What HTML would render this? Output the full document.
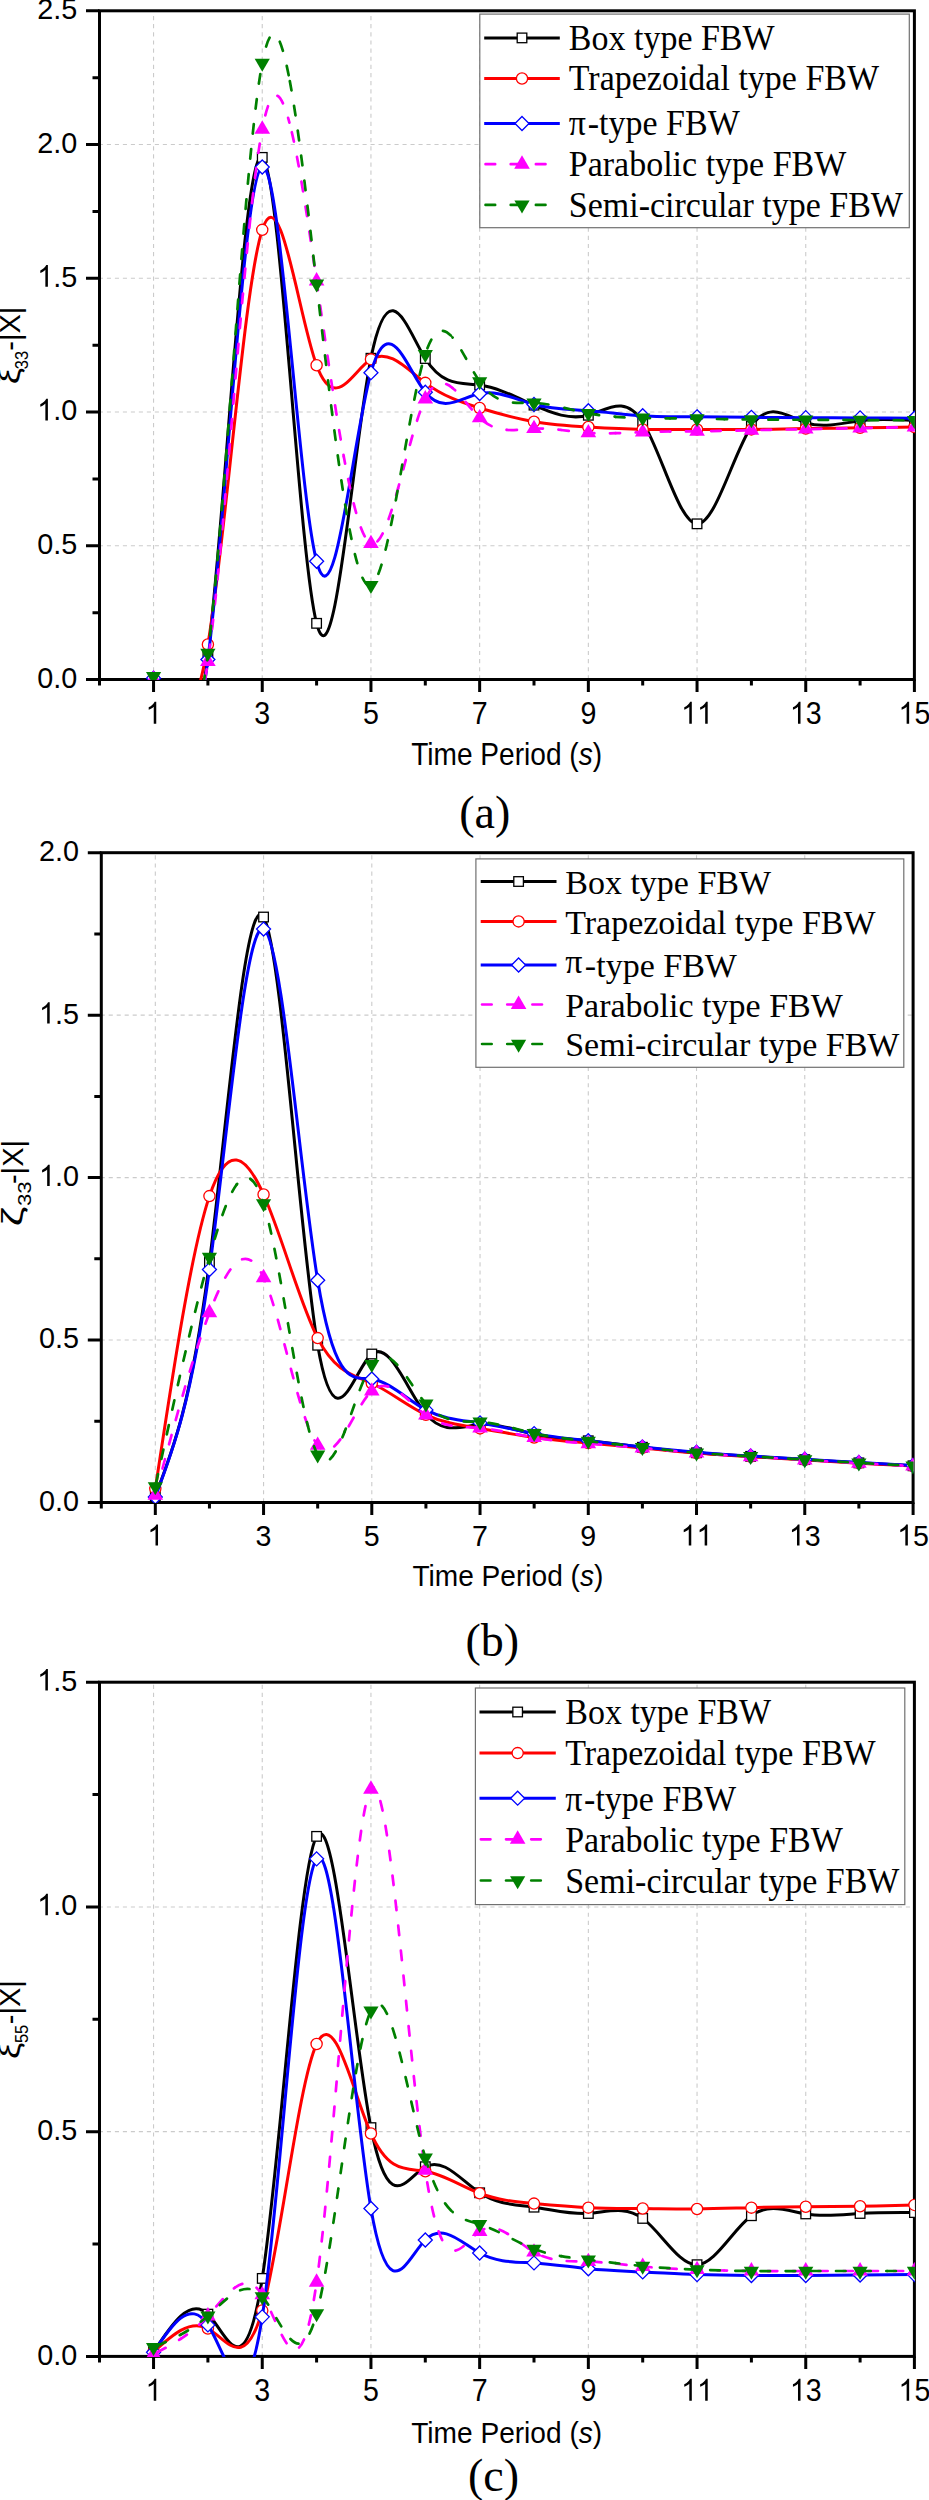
<!DOCTYPE html><html><head><meta charset="utf-8"><style>html,body{margin:0;padding:0;background:#fff;}svg{display:block;}text{font-family:"Liberation Sans",sans-serif;}.serif{font-family:"Liberation Serif",serif;}</style></head><body>
<svg width="929" height="2500" viewBox="0 0 929 2500">
<rect width="929" height="2500" fill="#fff"/>
<defs><clipPath id="clipa"><rect x="99" y="10.3" width="815.9" height="669.7"/></clipPath></defs>
<path d="M153.55 679.5V12.3M262.25 679.5V12.3M370.95 679.5V12.3M479.65 679.5V12.3M588.35 679.5V12.3M697.05 679.5V12.3M805.75 679.5V12.3" stroke="#cbcbcb" stroke-width="1.1" stroke-dasharray="4.2 3.94" fill="none"/>
<path d="M98.9 545.76H912.9M98.9 412.02H912.9M98.9 278.28H912.9M98.9 144.54H912.9" stroke="#cbcbcb" stroke-width="1.1" stroke-dasharray="4.1 3.89" fill="none"/>
<rect x="99.5" y="10.8" width="814.9" height="668.7" fill="none" stroke="#000" stroke-width="3"/>
<path d="M99.5 679.5V685.5M153.55 679.5V692M207.9 679.5V685.5M262.25 679.5V692M316.6 679.5V685.5M370.95 679.5V692M425.3 679.5V685.5M479.65 679.5V692M534 679.5V685.5M588.35 679.5V692M642.7 679.5V685.5M697.05 679.5V692M751.4 679.5V685.5M805.75 679.5V692M860.1 679.5V685.5M914.4 679.5V692M99.5 679.5H86M99.5 612.63H92.5M99.5 545.76H86M99.5 478.89H92.5M99.5 412.02H86M99.5 345.15H92.5M99.5 278.28H86M99.5 211.41H92.5M99.5 144.54H86M99.5 77.67H92.5M99.5 10.8H86" stroke="#000" stroke-width="3" fill="none"/>
<g clip-path="url(#clipa)">
<path d="M153.55 678.16C171.67 741.24 189.78 804.31 207.9 655.43C226.02 506.54 244.13 145.69 262.25 157.38C280.37 169.07 298.48 553.3 316.6 623.33C334.72 693.36 352.83 449.17 370.95 358.26C389.07 267.34 407.18 329.68 425.3 358.52C443.42 387.37 461.53 382.71 479.65 385.11C497.77 387.52 515.88 396.99 534 405.15C552.12 413.3 570.23 420.14 588.35 415.26C606.47 410.38 624.58 393.78 642.7 421.94C660.82 450.11 678.93 523.03 697.05 523.83C715.17 524.63 733.28 453.31 751.4 426.36C769.52 399.4 787.63 416.81 805.75 422.72C823.87 428.63 841.98 423.04 860.1 420.77C878.22 418.5 896.33 419.55 914.45 420.61" fill="none" stroke="#000000" stroke-width="3" stroke-linejoin="round"/>
<rect x="148.75" y="673.36" width="9.6" height="9.6" fill="#fff" stroke="#000000" stroke-width="1.3"/>
<rect x="203.1" y="650.63" width="9.6" height="9.6" fill="#fff" stroke="#000000" stroke-width="1.3"/>
<rect x="257.45" y="152.58" width="9.6" height="9.6" fill="#fff" stroke="#000000" stroke-width="1.3"/>
<rect x="311.8" y="618.53" width="9.6" height="9.6" fill="#fff" stroke="#000000" stroke-width="1.3"/>
<rect x="366.15" y="353.46" width="9.6" height="9.6" fill="#fff" stroke="#000000" stroke-width="1.3"/>
<rect x="420.5" y="353.72" width="9.6" height="9.6" fill="#fff" stroke="#000000" stroke-width="1.3"/>
<rect x="474.85" y="380.31" width="9.6" height="9.6" fill="#fff" stroke="#000000" stroke-width="1.3"/>
<rect x="529.2" y="400.35" width="9.6" height="9.6" fill="#fff" stroke="#000000" stroke-width="1.3"/>
<rect x="583.55" y="410.46" width="9.6" height="9.6" fill="#fff" stroke="#000000" stroke-width="1.3"/>
<rect x="637.9" y="417.14" width="9.6" height="9.6" fill="#fff" stroke="#000000" stroke-width="1.3"/>
<rect x="692.25" y="519.03" width="9.6" height="9.6" fill="#fff" stroke="#000000" stroke-width="1.3"/>
<rect x="746.6" y="421.56" width="9.6" height="9.6" fill="#fff" stroke="#000000" stroke-width="1.3"/>
<rect x="800.95" y="417.92" width="9.6" height="9.6" fill="#fff" stroke="#000000" stroke-width="1.3"/>
<rect x="855.3" y="415.97" width="9.6" height="9.6" fill="#fff" stroke="#000000" stroke-width="1.3"/>
<rect x="909.65" y="415.81" width="9.6" height="9.6" fill="#fff" stroke="#000000" stroke-width="1.3"/>
<path d="M153.55 678.16C171.67 715.06 189.78 751.97 207.9 644.46C226.02 536.96 244.13 285.04 262.25 229.87C280.37 174.69 298.48 316.24 316.6 365.21C334.72 414.18 352.83 370.55 370.95 359.33C389.07 348.1 407.18 369.27 425.3 382.86C443.42 396.46 461.53 402.49 479.65 408.01C497.77 413.53 515.88 418.55 534 421.65C552.12 424.75 570.23 425.92 588.35 427C606.47 428.08 624.58 429.06 642.7 429.41C660.82 429.75 678.93 429.47 697.05 429.41C715.17 429.35 733.28 429.51 751.4 429.41C769.52 429.3 787.63 428.91 805.75 428.6C823.87 428.29 841.98 428.06 860.1 427.8C878.22 427.55 896.33 427.27 914.45 427" fill="none" stroke="#ff0000" stroke-width="3" stroke-linejoin="round"/>
<circle cx="153.55" cy="678.16" r="5.6" fill="#fff" stroke="#ff0000" stroke-width="1.3"/>
<circle cx="207.9" cy="644.46" r="5.6" fill="#fff" stroke="#ff0000" stroke-width="1.3"/>
<circle cx="262.25" cy="229.87" r="5.6" fill="#fff" stroke="#ff0000" stroke-width="1.3"/>
<circle cx="316.6" cy="365.21" r="5.6" fill="#fff" stroke="#ff0000" stroke-width="1.3"/>
<circle cx="370.95" cy="359.33" r="5.6" fill="#fff" stroke="#ff0000" stroke-width="1.3"/>
<circle cx="425.3" cy="382.86" r="5.6" fill="#fff" stroke="#ff0000" stroke-width="1.3"/>
<circle cx="479.65" cy="408.01" r="5.6" fill="#fff" stroke="#ff0000" stroke-width="1.3"/>
<circle cx="534" cy="421.65" r="5.6" fill="#fff" stroke="#ff0000" stroke-width="1.3"/>
<circle cx="588.35" cy="427" r="5.6" fill="#fff" stroke="#ff0000" stroke-width="1.3"/>
<circle cx="642.7" cy="429.41" r="5.6" fill="#fff" stroke="#ff0000" stroke-width="1.3"/>
<circle cx="697.05" cy="429.41" r="5.6" fill="#fff" stroke="#ff0000" stroke-width="1.3"/>
<circle cx="751.4" cy="429.41" r="5.6" fill="#fff" stroke="#ff0000" stroke-width="1.3"/>
<circle cx="805.75" cy="428.6" r="5.6" fill="#fff" stroke="#ff0000" stroke-width="1.3"/>
<circle cx="860.1" cy="427.8" r="5.6" fill="#fff" stroke="#ff0000" stroke-width="1.3"/>
<circle cx="914.45" cy="427" r="5.6" fill="#fff" stroke="#ff0000" stroke-width="1.3"/>
<path d="M153.55 678.16C171.67 739.56 189.78 800.95 207.9 659.44C226.02 517.93 244.13 173.51 262.25 167.01C280.37 160.51 298.48 491.92 316.6 561.27C334.72 630.63 352.83 437.92 370.95 372.7C389.07 307.49 407.18 369.77 425.3 392.23C443.42 414.69 461.53 397.33 479.65 393.56C497.77 389.8 515.88 399.63 534 404.53C552.12 409.43 570.23 409.4 588.35 410.68C606.47 411.97 624.58 414.56 642.7 415.76C660.82 416.97 678.93 416.78 697.05 416.83C715.17 416.89 733.28 417.2 751.4 417.37C769.52 417.54 787.63 417.57 805.75 417.64C823.87 417.7 841.98 417.81 860.1 417.9C878.22 418 896.33 418.09 914.45 418.17" fill="none" stroke="#0000ff" stroke-width="3" stroke-linejoin="round"/>
<path d="M153.55 671.16L160.55 678.16L153.55 685.16L146.55 678.16Z" fill="#fff" stroke="#0000ff" stroke-width="1.3"/>
<path d="M207.9 652.44L214.9 659.44L207.9 666.44L200.9 659.44Z" fill="#fff" stroke="#0000ff" stroke-width="1.3"/>
<path d="M262.25 160.01L269.25 167.01L262.25 174.01L255.25 167.01Z" fill="#fff" stroke="#0000ff" stroke-width="1.3"/>
<path d="M316.6 554.27L323.6 561.27L316.6 568.27L309.6 561.27Z" fill="#fff" stroke="#0000ff" stroke-width="1.3"/>
<path d="M370.95 365.7L377.95 372.7L370.95 379.7L363.95 372.7Z" fill="#fff" stroke="#0000ff" stroke-width="1.3"/>
<path d="M425.3 385.23L432.3 392.23L425.3 399.23L418.3 392.23Z" fill="#fff" stroke="#0000ff" stroke-width="1.3"/>
<path d="M479.65 386.56L486.65 393.56L479.65 400.56L472.65 393.56Z" fill="#fff" stroke="#0000ff" stroke-width="1.3"/>
<path d="M534 397.53L541 404.53L534 411.53L527 404.53Z" fill="#fff" stroke="#0000ff" stroke-width="1.3"/>
<path d="M588.35 403.68L595.35 410.68L588.35 417.68L581.35 410.68Z" fill="#fff" stroke="#0000ff" stroke-width="1.3"/>
<path d="M642.7 408.76L649.7 415.76L642.7 422.76L635.7 415.76Z" fill="#fff" stroke="#0000ff" stroke-width="1.3"/>
<path d="M697.05 409.83L704.05 416.83L697.05 423.83L690.05 416.83Z" fill="#fff" stroke="#0000ff" stroke-width="1.3"/>
<path d="M751.4 410.37L758.4 417.37L751.4 424.37L744.4 417.37Z" fill="#fff" stroke="#0000ff" stroke-width="1.3"/>
<path d="M805.75 410.64L812.75 417.64L805.75 424.64L798.75 417.64Z" fill="#fff" stroke="#0000ff" stroke-width="1.3"/>
<path d="M860.1 410.9L867.1 417.9L860.1 424.9L853.1 417.9Z" fill="#fff" stroke="#0000ff" stroke-width="1.3"/>
<path d="M914.45 411.17L921.45 418.17L914.45 425.17L907.45 418.17Z" fill="#fff" stroke="#0000ff" stroke-width="1.3"/>
<g fill="none" stroke="#ff00ff" stroke-width="2.7" stroke-dasharray="9.6 15.57" stroke-linecap="round"><path d="M153.55 678.97C162.61 706.5 171.67 734.04 180.73 738.75" stroke-dashoffset="15.20"/><path d="M180.73 738.75C189.78 743.46 198.84 725.35 207.9 661.58" stroke-dashoffset="81.65"/><path d="M207.9 661.58C216.96 597.81 226.02 488.39 235.07 383.09" stroke-dashoffset="168.58"/><path d="M235.07 383.09C244.13 277.79 253.19 176.6 262.25 129.29" stroke-dashoffset="448.42"/><path d="M262.25 129.29C271.31 81.99 280.37 88.57 289.43 122.64" stroke-dashoffset="690.63"/><path d="M289.43 122.64C298.48 156.71 307.54 218.28 316.6 280.95" stroke-dashoffset="770.17"/><path d="M316.6 280.95C325.66 343.63 334.72 407.41 343.77 456.46" stroke-dashoffset="931.57"/><path d="M343.77 456.46C352.83 505.52 361.89 539.85 370.95 543.62" stroke-dashoffset="1109.88"/><path d="M370.95 543.62C380.01 547.39 389.07 520.61 398.12 488.19" stroke-dashoffset="1200.88"/><path d="M398.12 488.19C407.18 455.76 416.24 417.7 425.3 398.91" stroke-dashoffset="1264.12"/><path d="M425.3 398.91C434.36 380.13 443.42 380.62 452.48 387.94" stroke-dashoffset="1355.93"/><path d="M452.48 387.94C461.53 395.25 470.59 409.39 479.65 417.9" stroke-dashoffset="1390.18"/><path d="M479.65 417.9C488.71 426.41 497.77 429.29 506.82 429.94" stroke-dashoffset="1429.83"/><path d="M506.82 429.94C515.88 430.59 524.94 429.01 534 428.6" stroke-dashoffset="1459.34"/><path d="M534 428.6C543.06 428.19 552.12 428.95 561.17 429.97" stroke-dashoffset="1485.73"/><path d="M561.17 429.97C570.23 430.99 579.29 432.26 588.35 432.88" stroke-dashoffset="1512.12"/><path d="M588.35 432.88C597.41 433.5 606.47 433.47 615.53 433.19" stroke-dashoffset="1538.92"/><path d="M615.53 433.19C624.58 432.92 633.64 432.41 642.7 432.08" stroke-dashoffset="1565.59"/><path d="M642.7 432.08C651.76 431.75 660.82 431.6 669.88 431.51" stroke-dashoffset="1592.79"/><path d="M669.88 431.51C678.93 431.42 687.99 431.38 697.05 431.28" stroke-dashoffset="1619.97"/><path d="M697.05 431.28C706.11 431.18 715.17 431.01 724.23 430.82" stroke-dashoffset="1647.14"/><path d="M724.23 430.82C733.28 430.62 742.34 430.41 751.4 430.21" stroke-dashoffset="1674.32"/><path d="M751.4 430.21C760.46 430.01 769.52 429.83 778.58 429.65" stroke-dashoffset="1701.50"/><path d="M778.58 429.65C787.63 429.48 796.69 429.31 805.75 429.14" stroke-dashoffset="1728.68"/><path d="M805.75 429.14C814.81 428.97 823.87 428.79 832.93 428.61" stroke-dashoffset="1755.86"/><path d="M832.93 428.61C841.98 428.43 851.04 428.25 860.1 428.07" stroke-dashoffset="1783.05"/><path d="M860.1 428.07C869.16 427.89 878.22 427.71 887.28 427.53" stroke-dashoffset="1810.23"/><path d="M887.28 427.53C896.33 427.35 905.39 427.18 914.45 427" stroke-dashoffset="1837.41"/></g>
<path d="M153.55 670.03L161.35 683.43L145.75 683.43Z" fill="#ff00ff"/>
<path d="M207.9 652.65L215.7 666.05L200.1 666.05Z" fill="#ff00ff"/>
<path d="M262.25 120.36L270.05 133.76L254.45 133.76Z" fill="#ff00ff"/>
<path d="M316.6 272.02L324.4 285.42L308.8 285.42Z" fill="#ff00ff"/>
<path d="M370.95 534.69L378.75 548.09L363.15 548.09Z" fill="#ff00ff"/>
<path d="M425.3 389.98L433.1 403.38L417.5 403.38Z" fill="#ff00ff"/>
<path d="M479.65 408.97L487.45 422.37L471.85 422.37Z" fill="#ff00ff"/>
<path d="M534 419.67L541.8 433.07L526.2 433.07Z" fill="#ff00ff"/>
<path d="M588.35 423.95L596.15 437.35L580.55 437.35Z" fill="#ff00ff"/>
<path d="M642.7 423.15L650.5 436.55L634.9 436.55Z" fill="#ff00ff"/>
<path d="M697.05 422.35L704.85 435.75L689.25 435.75Z" fill="#ff00ff"/>
<path d="M751.4 421.28L759.2 434.68L743.6 434.68Z" fill="#ff00ff"/>
<path d="M805.75 420.21L813.55 433.61L797.95 433.61Z" fill="#ff00ff"/>
<path d="M860.1 419.14L867.9 432.54L852.3 432.54Z" fill="#ff00ff"/>
<path d="M914.45 418.07L922.25 431.47L906.65 431.47Z" fill="#ff00ff"/>
<g fill="none" stroke="#008000" stroke-width="2.7" stroke-dasharray="9.6 15.57" stroke-linecap="round"><path d="M153.55 676.29C162.61 706.65 171.67 737.02 180.73 741.7" stroke-dashoffset="14.20"/><path d="M180.73 741.7C189.78 746.38 198.84 725.38 207.9 653.02" stroke-dashoffset="85.85"/><path d="M207.9 653.02C216.96 580.66 226.02 456.94 235.07 339.41" stroke-dashoffset="183.48"/><path d="M235.07 339.41C244.13 221.88 253.19 110.55 262.25 62.96" stroke-dashoffset="498.29"/><path d="M262.25 62.96C271.31 15.37 280.37 31.53 289.43 79.13" stroke-dashoffset="763.55"/><path d="M289.43 79.13C298.48 126.72 307.54 205.75 316.6 283.9" stroke-dashoffset="853.65"/><path d="M316.6 283.9C325.66 362.04 334.72 439.31 343.77 496.08" stroke-dashoffset="1060.75"/><path d="M343.77 496.08C352.83 552.86 361.89 589.15 370.95 585.35" stroke-dashoffset="1275.18"/><path d="M370.95 585.35C380.01 581.55 389.07 537.65 398.12 487.77" stroke-dashoffset="1370.17"/><path d="M398.12 487.77C407.18 437.88 416.24 382.01 425.3 354.24" stroke-dashoffset="1471.10"/><path d="M425.3 354.24C434.36 326.48 443.42 326.83 452.48 337.35" stroke-dashoffset="1604.84"/><path d="M452.48 337.35C461.53 347.87 470.59 368.58 479.65 381.53" stroke-dashoffset="1645.34"/><path d="M479.65 381.53C488.71 394.48 497.77 399.67 506.82 401.71" stroke-dashoffset="1696.53"/><path d="M506.82 401.71C515.88 403.75 524.94 402.62 534 402.93" stroke-dashoffset="1730.48"/><path d="M534 402.93C543.06 403.23 552.12 404.97 561.17 407.06" stroke-dashoffset="1757.00"/><path d="M561.17 407.06C570.23 409.16 579.29 411.61 588.35 413.36" stroke-dashoffset="1783.79"/><path d="M588.35 413.36C597.41 415.1 606.47 416.14 615.53 416.79" stroke-dashoffset="1810.95"/><path d="M615.53 416.79C624.58 417.44 633.64 417.7 642.7 417.9" stroke-dashoffset="1838.01"/><path d="M642.7 417.9C651.76 418.11 660.82 418.24 669.88 418.36" stroke-dashoffset="1864.86"/><path d="M669.88 418.36C678.93 418.48 687.99 418.58 697.05 418.71" stroke-dashoffset="1891.51"/><path d="M697.05 418.71C706.11 418.83 715.17 418.99 724.23 419.13" stroke-dashoffset="1918.17"/><path d="M724.23 419.13C733.28 419.28 742.34 419.42 751.4 419.51" stroke-dashoffset="1944.82"/><path d="M751.4 419.51C760.46 419.6 769.52 419.65 778.58 419.69" stroke-dashoffset="1971.47"/><path d="M778.58 419.69C787.63 419.73 796.69 419.75 805.75 419.78" stroke-dashoffset="1998.78"/><path d="M805.75 419.78C814.81 419.81 823.87 419.85 832.93 419.9" stroke-dashoffset="2026.09"/><path d="M832.93 419.9C841.98 419.94 851.04 420 860.1 420.04" stroke-dashoffset="2053.40"/><path d="M860.1 420.04C869.16 420.09 878.22 420.14 887.28 420.18" stroke-dashoffset="2080.57"/><path d="M887.28 420.18C896.33 420.23 905.39 420.27 914.45 420.31" stroke-dashoffset="2107.75"/></g>
<path d="M145.95 671.96L161.15 671.96L153.55 684.96Z" fill="#008000"/>
<path d="M200.3 648.69L215.5 648.69L207.9 661.69Z" fill="#008000"/>
<path d="M254.65 58.63L269.85 58.63L262.25 71.63Z" fill="#008000"/>
<path d="M309 279.56L324.2 279.56L316.6 292.56Z" fill="#008000"/>
<path d="M363.35 581.01L378.55 581.01L370.95 594.01Z" fill="#008000"/>
<path d="M417.7 349.91L432.9 349.91L425.3 362.91Z" fill="#008000"/>
<path d="M472.05 377.19L487.25 377.19L479.65 390.19Z" fill="#008000"/>
<path d="M526.4 398.59L541.6 398.59L534 411.59Z" fill="#008000"/>
<path d="M580.75 409.02L595.95 409.02L588.35 422.02Z" fill="#008000"/>
<path d="M635.1 413.57L650.3 413.57L642.7 426.57Z" fill="#008000"/>
<path d="M689.45 414.37L704.65 414.37L697.05 427.37Z" fill="#008000"/>
<path d="M743.8 415.18L759 415.18L751.4 428.18Z" fill="#008000"/>
<path d="M798.15 415.44L813.35 415.44L805.75 428.44Z" fill="#008000"/>
<path d="M852.5 415.71L867.7 415.71L860.1 428.71Z" fill="#008000"/>
<path d="M906.85 415.98L922.05 415.98L914.45 428.98Z" fill="#008000"/>
</g>
<path transform="translate(145.6 723.7) scale(0.01396 -0.01487)" d="M763 0L583 0L583 1147Q518 1085 412 1023Q306 961 222 930L222 1104Q373 1175 486 1276Q599 1377 646 1472L763 1472Z"/>
<text transform="translate(254.3 723.7) scale(1 1.065)" font-size="28.6">3</text>
<text transform="translate(363 723.7) scale(1 1.065)" font-size="28.6">5</text>
<text transform="translate(471.7 723.7) scale(1 1.065)" font-size="28.6">7</text>
<text transform="translate(580.4 723.7) scale(1 1.065)" font-size="28.6">9</text>
<path transform="translate(681.15 723.7) scale(0.01396 -0.01487)" d="M763 0L583 0L583 1147Q518 1085 412 1023Q306 961 222 930L222 1104Q373 1175 486 1276Q599 1377 646 1472L763 1472Z"/><path transform="translate(697.05 723.7) scale(0.01396 -0.01487)" d="M763 0L583 0L583 1147Q518 1085 412 1023Q306 961 222 930L222 1104Q373 1175 486 1276Q599 1377 646 1472L763 1472Z"/>
<path transform="translate(789.85 723.7) scale(0.01396 -0.01487)" d="M763 0L583 0L583 1147Q518 1085 412 1023Q306 961 222 930L222 1104Q373 1175 486 1276Q599 1377 646 1472L763 1472Z"/><text transform="translate(805.75 723.7) scale(1 1.065)" font-size="28.6">3</text>
<path transform="translate(898.5 723.7) scale(0.01396 -0.01487)" d="M763 0L583 0L583 1147Q518 1085 412 1023Q306 961 222 930L222 1104Q373 1175 486 1276Q599 1377 646 1472L763 1472Z"/><text transform="translate(914.4 723.7) scale(1 1.065)" font-size="28.6">5</text>
<text transform="translate(37.17 687.9) scale(1 1.045)" font-size="28.8">0</text><text transform="translate(53.18 687.9) scale(1 1.045)" font-size="28.8">.</text><text transform="translate(61.19 687.9) scale(1 1.045)" font-size="28.8">0</text>
<text transform="translate(37.17 554.16) scale(1 1.045)" font-size="28.8">0</text><text transform="translate(53.18 554.16) scale(1 1.045)" font-size="28.8">.</text><text transform="translate(61.19 554.16) scale(1 1.045)" font-size="28.8">5</text>
<path transform="translate(37.17 420.42) scale(0.01406 -0.01470)" d="M763 0L583 0L583 1147Q518 1085 412 1023Q306 961 222 930L222 1104Q373 1175 486 1276Q599 1377 646 1472L763 1472Z"/><text transform="translate(53.18 420.42) scale(1 1.045)" font-size="28.8">.</text><text transform="translate(61.19 420.42) scale(1 1.045)" font-size="28.8">0</text>
<path transform="translate(37.17 286.68) scale(0.01406 -0.01470)" d="M763 0L583 0L583 1147Q518 1085 412 1023Q306 961 222 930L222 1104Q373 1175 486 1276Q599 1377 646 1472L763 1472Z"/><text transform="translate(53.18 286.68) scale(1 1.045)" font-size="28.8">.</text><text transform="translate(61.19 286.68) scale(1 1.045)" font-size="28.8">5</text>
<text transform="translate(37.17 152.94) scale(1 1.045)" font-size="28.8">2</text><text transform="translate(53.18 152.94) scale(1 1.045)" font-size="28.8">.</text><text transform="translate(61.19 152.94) scale(1 1.045)" font-size="28.8">0</text>
<text transform="translate(37.17 19.2) scale(1 1.045)" font-size="28.8">2</text><text transform="translate(53.18 19.2) scale(1 1.045)" font-size="28.8">.</text><text transform="translate(61.19 19.2) scale(1 1.045)" font-size="28.8">5</text>
<text transform="translate(20.4 306.7) rotate(-90) scale(1.035 1.06)" font-size="28" text-anchor="end">-|X|</text>
<text transform="translate(28.4 351) rotate(-90) scale(0.9 1.0)" font-size="18.2" text-anchor="end">33</text>
<text transform="translate(20.4 367.9) rotate(-90) scale(1.3 1.06)" font-size="28" text-anchor="end">ξ</text>
<text transform="translate(411.2 765.1) scale(1 1.1)" font-size="28.1">Time Period (<tspan font-style="italic">s</tspan>)</text>
<text class="serif" x="459.2" y="828.2" font-size="46">(a)</text>
<rect x="479.8" y="14.1" width="429.5" height="213.6" fill="#fff" stroke="#707070" stroke-width="1.2"/>
<path d="M484.2 37.9H559.8" stroke="#000000" stroke-width="3"/>
<rect x="517.2" y="33.1" width="9.6" height="9.6" fill="#fff" stroke="#000000" stroke-width="1.3"/>
<text class="serif" transform="translate(568.8 49.8) scale(1 1.065)" font-size="34">Box type FBW</text>
<path d="M484.2 78.5H559.8" stroke="#ff0000" stroke-width="3"/>
<circle cx="522" cy="78.5" r="5.6" fill="#fff" stroke="#ff0000" stroke-width="1.3"/>
<text class="serif" transform="translate(568.8 90.4) scale(1 1.065)" font-size="34">Trapezoidal type FBW</text>
<path d="M484.2 123.5H559.8" stroke="#0000ff" stroke-width="3"/>
<path d="M522 116.5L529 123.5L522 130.5L515 123.5Z" fill="#fff" stroke="#0000ff" stroke-width="1.3"/>
<text class="serif" transform="translate(568.8 135.4) scale(1 1.065)" font-size="34"><tspan dy="0">π</tspan><tspan dy="0" dx="1.8">-type FBW</tspan></text>
<path d="M485.55 164.2H545.85" stroke="#ff00ff" stroke-width="2.7" stroke-dasharray="9.6 15.57" stroke-linecap="round"/>
<path d="M522 155.27L529.8 168.67L514.2 168.67Z" fill="#ff00ff"/>
<text class="serif" transform="translate(568.8 176.1) scale(1 1.065)" font-size="34">Parabolic type FBW</text>
<path d="M485.55 204.9H545.85" stroke="#008000" stroke-width="2.7" stroke-dasharray="9.6 15.57" stroke-linecap="round"/>
<path d="M514.4 200.57L529.6 200.57L522 213.57Z" fill="#008000"/>
<text class="serif" transform="translate(568.8 216.8) scale(1 1.065)" font-size="34">Semi-circular type FBW</text>
<defs><clipPath id="clipb"><rect x="100.8" y="852.2" width="812.8" height="650.8"/></clipPath></defs>
<path d="M155.32 1502.5V854.2M263.56 1502.5V854.2M371.8 1502.5V854.2M480.04 1502.5V854.2M588.28 1502.5V854.2M696.52 1502.5V854.2M804.76 1502.5V854.2" stroke="#cbcbcb" stroke-width="1.1" stroke-dasharray="4.2 3.94" fill="none"/>
<path d="M100.7 1340.05H911.6M100.7 1177.6H911.6M100.7 1015.15H911.6" stroke="#cbcbcb" stroke-width="1.1" stroke-dasharray="4.1 3.89" fill="none"/>
<rect x="101.3" y="852.7" width="811.8" height="649.8" fill="none" stroke="#000" stroke-width="3"/>
<path d="M101.3 1502.5V1508.5M155.32 1502.5V1515M209.44 1502.5V1508.5M263.56 1502.5V1515M317.68 1502.5V1508.5M371.8 1502.5V1515M425.92 1502.5V1508.5M480.04 1502.5V1515M534.16 1502.5V1508.5M588.28 1502.5V1515M642.4 1502.5V1508.5M696.52 1502.5V1515M750.64 1502.5V1508.5M804.76 1502.5V1515M858.88 1502.5V1508.5M913.1 1502.5V1515M101.3 1502.5H87.8M101.3 1421.28H94.3M101.3 1340.05H87.8M101.3 1258.83H94.3M101.3 1177.6H87.8M101.3 1096.38H94.3M101.3 1015.15H87.8M101.3 933.93H94.3M101.3 852.7H87.8" stroke="#000" stroke-width="3" fill="none"/>
<g clip-path="url(#clipb)">
<path d="M155.32 1496C173.36 1449.26 191.4 1402.51 209.44 1262.07C227.48 1121.64 245.52 887.5 263.56 917.03C281.6 946.56 299.64 1239.74 317.68 1345.25C335.72 1450.75 353.76 1368.58 371.8 1354.02C389.84 1339.46 407.88 1392.52 425.92 1414.13C443.96 1435.73 462 1425.88 480.04 1424.52C498.08 1423.16 516.12 1430.3 534.16 1434.27C552.2 1438.25 570.24 1439.07 588.28 1440.77C606.32 1442.47 624.36 1445.05 642.4 1447.27C660.44 1449.48 678.48 1451.34 696.52 1452.79C714.56 1454.24 732.6 1455.3 750.64 1456.36C768.68 1457.43 786.72 1458.51 804.76 1459.61C822.8 1460.71 840.84 1461.83 858.88 1462.86C876.92 1463.89 894.96 1464.84 913 1465.79" fill="none" stroke="#000000" stroke-width="3" stroke-linejoin="round"/>
<rect x="150.52" y="1491.2" width="9.6" height="9.6" fill="#fff" stroke="#000000" stroke-width="1.3"/>
<rect x="204.64" y="1257.27" width="9.6" height="9.6" fill="#fff" stroke="#000000" stroke-width="1.3"/>
<rect x="258.76" y="912.23" width="9.6" height="9.6" fill="#fff" stroke="#000000" stroke-width="1.3"/>
<rect x="312.88" y="1340.45" width="9.6" height="9.6" fill="#fff" stroke="#000000" stroke-width="1.3"/>
<rect x="367" y="1349.22" width="9.6" height="9.6" fill="#fff" stroke="#000000" stroke-width="1.3"/>
<rect x="421.12" y="1409.33" width="9.6" height="9.6" fill="#fff" stroke="#000000" stroke-width="1.3"/>
<rect x="475.24" y="1419.72" width="9.6" height="9.6" fill="#fff" stroke="#000000" stroke-width="1.3"/>
<rect x="529.36" y="1429.47" width="9.6" height="9.6" fill="#fff" stroke="#000000" stroke-width="1.3"/>
<rect x="583.48" y="1435.97" width="9.6" height="9.6" fill="#fff" stroke="#000000" stroke-width="1.3"/>
<rect x="637.6" y="1442.47" width="9.6" height="9.6" fill="#fff" stroke="#000000" stroke-width="1.3"/>
<rect x="691.72" y="1447.99" width="9.6" height="9.6" fill="#fff" stroke="#000000" stroke-width="1.3"/>
<rect x="745.84" y="1451.56" width="9.6" height="9.6" fill="#fff" stroke="#000000" stroke-width="1.3"/>
<rect x="799.96" y="1454.81" width="9.6" height="9.6" fill="#fff" stroke="#000000" stroke-width="1.3"/>
<rect x="854.08" y="1458.06" width="9.6" height="9.6" fill="#fff" stroke="#000000" stroke-width="1.3"/>
<rect x="908.2" y="1460.99" width="9.6" height="9.6" fill="#fff" stroke="#000000" stroke-width="1.3"/>
<path d="M155.32 1488.85C173.36 1369.37 191.4 1249.88 209.44 1196.12C227.48 1142.36 245.52 1154.33 263.56 1194.49C281.6 1234.66 299.64 1303.02 317.68 1338.1C335.72 1373.18 353.76 1374.99 371.8 1383.26C389.84 1391.54 407.88 1406.29 425.92 1414.78C443.96 1423.27 462 1425.5 480.04 1428.42C498.08 1431.35 516.12 1434.98 534.16 1437.52C552.2 1440.06 570.24 1441.52 588.28 1443.04C606.32 1444.57 624.36 1446.15 642.4 1447.92C660.44 1449.68 678.48 1451.63 696.52 1453.12C714.56 1454.6 732.6 1455.63 750.64 1456.69C768.68 1457.75 786.72 1458.84 804.76 1459.94C822.8 1461.04 840.84 1462.16 858.88 1463.19C876.92 1464.22 894.96 1465.16 913 1466.11" fill="none" stroke="#ff0000" stroke-width="3" stroke-linejoin="round"/>
<circle cx="155.32" cy="1488.85" r="5.6" fill="#fff" stroke="#ff0000" stroke-width="1.3"/>
<circle cx="209.44" cy="1196.12" r="5.6" fill="#fff" stroke="#ff0000" stroke-width="1.3"/>
<circle cx="263.56" cy="1194.49" r="5.6" fill="#fff" stroke="#ff0000" stroke-width="1.3"/>
<circle cx="317.68" cy="1338.1" r="5.6" fill="#fff" stroke="#ff0000" stroke-width="1.3"/>
<circle cx="371.8" cy="1383.26" r="5.6" fill="#fff" stroke="#ff0000" stroke-width="1.3"/>
<circle cx="425.92" cy="1414.78" r="5.6" fill="#fff" stroke="#ff0000" stroke-width="1.3"/>
<circle cx="480.04" cy="1428.42" r="5.6" fill="#fff" stroke="#ff0000" stroke-width="1.3"/>
<circle cx="534.16" cy="1437.52" r="5.6" fill="#fff" stroke="#ff0000" stroke-width="1.3"/>
<circle cx="588.28" cy="1443.04" r="5.6" fill="#fff" stroke="#ff0000" stroke-width="1.3"/>
<circle cx="642.4" cy="1447.92" r="5.6" fill="#fff" stroke="#ff0000" stroke-width="1.3"/>
<circle cx="696.52" cy="1453.12" r="5.6" fill="#fff" stroke="#ff0000" stroke-width="1.3"/>
<circle cx="750.64" cy="1456.69" r="5.6" fill="#fff" stroke="#ff0000" stroke-width="1.3"/>
<circle cx="804.76" cy="1459.94" r="5.6" fill="#fff" stroke="#ff0000" stroke-width="1.3"/>
<circle cx="858.88" cy="1463.19" r="5.6" fill="#fff" stroke="#ff0000" stroke-width="1.3"/>
<circle cx="913" cy="1466.11" r="5.6" fill="#fff" stroke="#ff0000" stroke-width="1.3"/>
<path d="M155.32 1496.98C173.36 1449.33 191.4 1401.68 209.44 1269.55C227.48 1137.41 245.52 920.79 263.56 929.05C281.6 937.32 299.64 1170.47 317.68 1280.27C335.72 1390.06 353.76 1376.49 371.8 1379.04C389.84 1381.58 407.88 1400.25 425.92 1409.9C443.96 1419.56 462 1420.21 480.04 1422.9C498.08 1425.59 516.12 1430.33 534.16 1433.62C552.2 1436.91 570.24 1438.75 588.28 1440.77C606.32 1442.79 624.36 1444.98 642.4 1446.94C660.44 1448.91 678.48 1450.64 696.52 1452.14C714.56 1453.64 732.6 1454.9 750.64 1456.04C768.68 1457.18 786.72 1458.21 804.76 1459.29C822.8 1460.37 840.84 1461.5 858.88 1462.54C876.92 1463.57 894.96 1464.52 913 1465.46" fill="none" stroke="#0000ff" stroke-width="3" stroke-linejoin="round"/>
<path d="M155.32 1489.98L162.32 1496.98L155.32 1503.98L148.32 1496.98Z" fill="#fff" stroke="#0000ff" stroke-width="1.3"/>
<path d="M209.44 1262.55L216.44 1269.55L209.44 1276.55L202.44 1269.55Z" fill="#fff" stroke="#0000ff" stroke-width="1.3"/>
<path d="M263.56 922.05L270.56 929.05L263.56 936.05L256.56 929.05Z" fill="#fff" stroke="#0000ff" stroke-width="1.3"/>
<path d="M317.68 1273.27L324.68 1280.27L317.68 1287.27L310.68 1280.27Z" fill="#fff" stroke="#0000ff" stroke-width="1.3"/>
<path d="M371.8 1372.04L378.8 1379.04L371.8 1386.04L364.8 1379.04Z" fill="#fff" stroke="#0000ff" stroke-width="1.3"/>
<path d="M425.92 1402.9L432.92 1409.9L425.92 1416.9L418.92 1409.9Z" fill="#fff" stroke="#0000ff" stroke-width="1.3"/>
<path d="M480.04 1415.9L487.04 1422.9L480.04 1429.9L473.04 1422.9Z" fill="#fff" stroke="#0000ff" stroke-width="1.3"/>
<path d="M534.16 1426.62L541.16 1433.62L534.16 1440.62L527.16 1433.62Z" fill="#fff" stroke="#0000ff" stroke-width="1.3"/>
<path d="M588.28 1433.77L595.28 1440.77L588.28 1447.77L581.28 1440.77Z" fill="#fff" stroke="#0000ff" stroke-width="1.3"/>
<path d="M642.4 1439.94L649.4 1446.94L642.4 1453.94L635.4 1446.94Z" fill="#fff" stroke="#0000ff" stroke-width="1.3"/>
<path d="M696.52 1445.14L703.52 1452.14L696.52 1459.14L689.52 1452.14Z" fill="#fff" stroke="#0000ff" stroke-width="1.3"/>
<path d="M750.64 1449.04L757.64 1456.04L750.64 1463.04L743.64 1456.04Z" fill="#fff" stroke="#0000ff" stroke-width="1.3"/>
<path d="M804.76 1452.29L811.76 1459.29L804.76 1466.29L797.76 1459.29Z" fill="#fff" stroke="#0000ff" stroke-width="1.3"/>
<path d="M858.88 1455.54L865.88 1462.54L858.88 1469.54L851.88 1462.54Z" fill="#fff" stroke="#0000ff" stroke-width="1.3"/>
<path d="M913 1458.46L920 1465.46L913 1472.46L906 1465.46Z" fill="#fff" stroke="#0000ff" stroke-width="1.3"/>
<g fill="none" stroke="#ff00ff" stroke-width="2.7" stroke-dasharray="9.6 15.57" stroke-linecap="round"><path d="M155.32 1495.35C164.34 1461.54 173.36 1427.73 182.38 1396.45" stroke-dashoffset="-2.50"/><path d="M182.38 1396.45C191.4 1365.17 200.42 1336.43 209.44 1312.76" stroke-dashoffset="100.04"/><path d="M209.44 1312.76C218.46 1289.09 227.48 1270.48 236.5 1262.72" stroke-dashoffset="188.02"/><path d="M236.5 1262.72C245.52 1254.95 254.54 1258.01 263.56 1277.67" stroke-dashoffset="245.18"/><path d="M263.56 1277.67C272.58 1297.33 281.6 1333.58 290.62 1367.75" stroke-dashoffset="282.48"/><path d="M290.62 1367.75C299.64 1401.92 308.66 1434 317.68 1445.32" stroke-dashoffset="376.46"/><path d="M317.68 1445.32C326.7 1456.63 335.72 1447.18 344.74 1432.85" stroke-dashoffset="458.95"/><path d="M344.74 1432.85C353.76 1418.51 362.78 1399.29 371.8 1391.06" stroke-dashoffset="495.54"/><path d="M371.8 1391.06C380.82 1382.83 389.84 1385.6 398.86 1392.04" stroke-dashoffset="545.46"/><path d="M398.86 1392.04C407.88 1398.49 416.9 1408.61 425.92 1415.1" stroke-dashoffset="575.32"/><path d="M425.92 1415.1C434.94 1421.59 443.96 1424.45 452.98 1425.88" stroke-dashoffset="610.90"/><path d="M452.98 1425.88C462 1427.31 471.02 1427.31 480.04 1428.1" stroke-dashoffset="640.31"/><path d="M480.04 1428.1C489.06 1428.88 498.08 1430.45 507.1 1432.21" stroke-dashoffset="667.47"/><path d="M507.1 1432.21C516.12 1433.98 525.14 1435.94 534.16 1437.52" stroke-dashoffset="694.85"/><path d="M534.16 1437.52C543.18 1439.1 552.2 1440.29 561.22 1441.26" stroke-dashoffset="722.43"/><path d="M561.22 1441.26C570.24 1442.24 579.26 1442.99 588.28 1443.69" stroke-dashoffset="749.75"/><path d="M588.28 1443.69C597.3 1444.4 606.32 1445.05 615.34 1445.72" stroke-dashoffset="776.92"/><path d="M615.34 1445.72C624.36 1446.4 633.38 1447.11 642.4 1447.92" stroke-dashoffset="804.06"/><path d="M642.4 1447.92C651.42 1448.73 660.44 1449.65 669.46 1450.55" stroke-dashoffset="831.21"/><path d="M669.46 1450.55C678.48 1451.46 687.5 1452.35 696.52 1453.12" stroke-dashoffset="858.39"/><path d="M696.52 1453.12C705.54 1453.88 714.56 1454.51 723.58 1455.08" stroke-dashoffset="885.58"/><path d="M723.58 1455.08C732.6 1455.65 741.62 1456.17 750.64 1456.69" stroke-dashoffset="912.71"/><path d="M750.64 1456.69C759.66 1457.21 768.68 1457.75 777.7 1458.29" stroke-dashoffset="939.82"/><path d="M777.7 1458.29C786.72 1458.84 795.74 1459.39 804.76 1459.94" stroke-dashoffset="966.92"/><path d="M804.76 1459.94C813.78 1460.49 822.8 1461.05 831.82 1461.59" stroke-dashoffset="994.03"/><path d="M831.82 1461.59C840.84 1462.14 849.86 1462.67 858.88 1463.19" stroke-dashoffset="1021.14"/><path d="M858.88 1463.19C867.9 1463.7 876.92 1464.2 885.94 1464.68" stroke-dashoffset="1048.25"/><path d="M885.94 1464.68C894.96 1465.16 903.98 1465.64 913 1466.11" stroke-dashoffset="1075.35"/></g>
<path d="M155.32 1486.42L163.12 1499.82L147.52 1499.82Z" fill="#ff00ff"/>
<path d="M209.44 1303.83L217.24 1317.23L201.64 1317.23Z" fill="#ff00ff"/>
<path d="M263.56 1268.74L271.36 1282.14L255.76 1282.14Z" fill="#ff00ff"/>
<path d="M317.68 1436.38L325.48 1449.78L309.88 1449.78Z" fill="#ff00ff"/>
<path d="M371.8 1382.13L379.6 1395.53L364 1395.53Z" fill="#ff00ff"/>
<path d="M425.92 1406.17L433.72 1419.57L418.12 1419.57Z" fill="#ff00ff"/>
<path d="M480.04 1419.16L487.84 1432.56L472.24 1432.56Z" fill="#ff00ff"/>
<path d="M534.16 1428.59L541.96 1441.99L526.36 1441.99Z" fill="#ff00ff"/>
<path d="M588.28 1434.76L596.08 1448.16L580.48 1448.16Z" fill="#ff00ff"/>
<path d="M642.4 1438.98L650.2 1452.38L634.6 1452.38Z" fill="#ff00ff"/>
<path d="M696.52 1444.18L704.32 1457.58L688.72 1457.58Z" fill="#ff00ff"/>
<path d="M750.64 1447.76L758.44 1461.16L742.84 1461.16Z" fill="#ff00ff"/>
<path d="M804.76 1451L812.56 1464.4L796.96 1464.4Z" fill="#ff00ff"/>
<path d="M858.88 1454.25L866.68 1467.65L851.08 1467.65Z" fill="#ff00ff"/>
<path d="M913 1457.18L920.8 1470.58L905.2 1470.58Z" fill="#ff00ff"/>
<g fill="none" stroke="#008000" stroke-width="2.7" stroke-dasharray="9.6 15.57" stroke-linecap="round"><path d="M155.32 1486.58C164.34 1445.36 173.36 1404.14 182.38 1365.16" stroke-dashoffset="-3.00"/><path d="M182.38 1365.16C191.4 1326.18 200.42 1289.45 209.44 1257.2" stroke-dashoffset="121.40"/><path d="M209.44 1257.2C218.46 1224.95 227.48 1197.2 236.5 1184.68" stroke-dashoffset="232.83"/><path d="M236.5 1184.68C245.52 1172.16 254.54 1174.88 263.56 1203.59" stroke-dashoffset="310.64"/><path d="M263.56 1203.59C272.58 1232.3 281.6 1287 290.62 1338.57" stroke-dashoffset="356.05"/><path d="M290.62 1338.57C299.64 1390.14 308.66 1438.57 317.68 1454.74" stroke-dashoffset="493.91"/><path d="M317.68 1454.74C326.7 1470.91 335.72 1454.83 344.74 1431.45" stroke-dashoffset="613.48"/><path d="M344.74 1431.45C353.76 1408.07 362.78 1377.41 371.8 1364.42" stroke-dashoffset="660.85"/><path d="M371.8 1364.42C380.82 1351.43 389.84 1356.12 398.86 1366.62" stroke-dashoffset="733.28"/><path d="M398.86 1366.62C407.88 1377.13 416.9 1393.45 425.92 1403.73" stroke-dashoffset="766.88"/><path d="M425.92 1403.73C434.94 1414.01 443.96 1418.24 452.98 1420.07" stroke-dashoffset="812.84"/><path d="M452.98 1420.07C462 1421.89 471.02 1421.3 480.04 1421.92" stroke-dashoffset="845.06"/><path d="M480.04 1421.92C489.06 1422.55 498.08 1424.4 507.1 1426.59" stroke-dashoffset="872.21"/><path d="M507.1 1426.59C516.12 1428.78 525.14 1431.31 534.16 1433.3" stroke-dashoffset="899.71"/><path d="M534.16 1433.3C543.18 1435.29 552.2 1436.74 561.22 1437.94" stroke-dashoffset="927.59"/><path d="M561.22 1437.94C570.24 1439.15 579.26 1440.1 588.28 1441.09" stroke-dashoffset="955.05"/><path d="M588.28 1441.09C597.3 1442.09 606.32 1443.12 615.34 1444.15" stroke-dashoffset="982.29"/><path d="M615.34 1444.15C624.36 1445.19 633.38 1446.24 642.4 1447.27" stroke-dashoffset="1009.53"/><path d="M642.4 1447.27C651.42 1448.29 660.44 1449.3 669.46 1450.24" stroke-dashoffset="1036.77"/><path d="M669.46 1450.24C678.48 1451.17 687.5 1452.04 696.52 1452.79" stroke-dashoffset="1063.99"/><path d="M696.52 1452.79C705.54 1453.54 714.56 1454.17 723.58 1454.74" stroke-dashoffset="1091.17"/><path d="M723.58 1454.74C732.6 1455.32 741.62 1455.84 750.64 1456.36" stroke-dashoffset="1118.30"/><path d="M750.64 1456.36C759.66 1456.89 768.68 1457.43 777.7 1457.97" stroke-dashoffset="1145.41"/><path d="M777.7 1457.97C786.72 1458.51 795.74 1459.06 804.76 1459.61" stroke-dashoffset="1172.52"/><path d="M804.76 1459.61C813.78 1460.16 822.8 1460.72 831.82 1461.26" stroke-dashoffset="1199.63"/><path d="M831.82 1461.26C840.84 1461.81 849.86 1462.35 858.88 1462.86" stroke-dashoffset="1226.74"/><path d="M858.88 1462.86C867.9 1463.38 876.92 1463.87 885.94 1464.36" stroke-dashoffset="1253.84"/><path d="M885.94 1464.36C894.96 1464.84 903.98 1465.31 913 1465.79" stroke-dashoffset="1280.94"/></g>
<path d="M147.72 1482.25L162.92 1482.25L155.32 1495.25Z" fill="#008000"/>
<path d="M201.84 1252.87L217.04 1252.87L209.44 1265.87Z" fill="#008000"/>
<path d="M255.96 1199.26L271.16 1199.26L263.56 1212.26Z" fill="#008000"/>
<path d="M310.08 1450.41L325.28 1450.41L317.68 1463.41Z" fill="#008000"/>
<path d="M364.2 1360.08L379.4 1360.08L371.8 1373.08Z" fill="#008000"/>
<path d="M418.32 1399.4L433.52 1399.4L425.92 1412.4Z" fill="#008000"/>
<path d="M472.44 1417.59L487.64 1417.59L480.04 1430.59Z" fill="#008000"/>
<path d="M526.56 1428.96L541.76 1428.96L534.16 1441.96Z" fill="#008000"/>
<path d="M580.68 1436.76L595.88 1436.76L588.28 1449.76Z" fill="#008000"/>
<path d="M634.8 1442.93L650 1442.93L642.4 1455.93Z" fill="#008000"/>
<path d="M688.92 1448.46L704.12 1448.46L696.52 1461.46Z" fill="#008000"/>
<path d="M743.04 1452.03L758.24 1452.03L750.64 1465.03Z" fill="#008000"/>
<path d="M797.16 1455.28L812.36 1455.28L804.76 1468.28Z" fill="#008000"/>
<path d="M851.28 1458.53L866.48 1458.53L858.88 1471.53Z" fill="#008000"/>
<path d="M905.4 1461.45L920.6 1461.45L913 1474.45Z" fill="#008000"/>
</g>
<path transform="translate(147.37 1545.6) scale(0.01396 -0.01431)" d="M763 0L583 0L583 1147Q518 1085 412 1023Q306 961 222 930L222 1104Q373 1175 486 1276Q599 1377 646 1472L763 1472Z"/>
<text transform="translate(255.61 1545.6) scale(1 1.025)" font-size="28.6">3</text>
<text transform="translate(363.85 1545.6) scale(1 1.025)" font-size="28.6">5</text>
<text transform="translate(472.09 1545.6) scale(1 1.025)" font-size="28.6">7</text>
<text transform="translate(580.33 1545.6) scale(1 1.025)" font-size="28.6">9</text>
<path transform="translate(680.62 1545.6) scale(0.01396 -0.01431)" d="M763 0L583 0L583 1147Q518 1085 412 1023Q306 961 222 930L222 1104Q373 1175 486 1276Q599 1377 646 1472L763 1472Z"/><path transform="translate(696.52 1545.6) scale(0.01396 -0.01431)" d="M763 0L583 0L583 1147Q518 1085 412 1023Q306 961 222 930L222 1104Q373 1175 486 1276Q599 1377 646 1472L763 1472Z"/>
<path transform="translate(788.86 1545.6) scale(0.01396 -0.01431)" d="M763 0L583 0L583 1147Q518 1085 412 1023Q306 961 222 930L222 1104Q373 1175 486 1276Q599 1377 646 1472L763 1472Z"/><text transform="translate(804.76 1545.6) scale(1 1.025)" font-size="28.6">3</text>
<path transform="translate(897.2 1545.6) scale(0.01396 -0.01431)" d="M763 0L583 0L583 1147Q518 1085 412 1023Q306 961 222 930L222 1104Q373 1175 486 1276Q599 1377 646 1472L763 1472Z"/><text transform="translate(913.1 1545.6) scale(1 1.025)" font-size="28.6">5</text>
<text transform="translate(38.97 1510.9) scale(1 1.025)" font-size="28.8">0</text><text transform="translate(54.98 1510.9) scale(1 1.025)" font-size="28.8">.</text><text transform="translate(62.99 1510.9) scale(1 1.025)" font-size="28.8">0</text>
<text transform="translate(38.97 1348.45) scale(1 1.025)" font-size="28.8">0</text><text transform="translate(54.98 1348.45) scale(1 1.025)" font-size="28.8">.</text><text transform="translate(62.99 1348.45) scale(1 1.025)" font-size="28.8">5</text>
<path transform="translate(38.97 1186) scale(0.01406 -0.01441)" d="M763 0L583 0L583 1147Q518 1085 412 1023Q306 961 222 930L222 1104Q373 1175 486 1276Q599 1377 646 1472L763 1472Z"/><text transform="translate(54.98 1186) scale(1 1.025)" font-size="28.8">.</text><text transform="translate(62.99 1186) scale(1 1.025)" font-size="28.8">0</text>
<path transform="translate(38.97 1023.55) scale(0.01406 -0.01441)" d="M763 0L583 0L583 1147Q518 1085 412 1023Q306 961 222 930L222 1104Q373 1175 486 1276Q599 1377 646 1472L763 1472Z"/><text transform="translate(54.98 1023.55) scale(1 1.025)" font-size="28.8">.</text><text transform="translate(62.99 1023.55) scale(1 1.025)" font-size="28.8">5</text>
<text transform="translate(38.97 861.1) scale(1 1.025)" font-size="28.8">2</text><text transform="translate(54.98 861.1) scale(1 1.025)" font-size="28.8">.</text><text transform="translate(62.99 861.1) scale(1 1.025)" font-size="28.8">0</text>
<text transform="translate(22.9 1140) rotate(-90) scale(1.035 1.06)" font-size="28" text-anchor="end">-|X|</text>
<text transform="translate(30.9 1181.4) rotate(-90) scale(1.22 1.0)" font-size="18.2" text-anchor="end">33</text>
<text transform="translate(22.9 1206.7) rotate(-90) scale(1.6 1.06)" font-size="28" text-anchor="end">ζ</text>
<text transform="translate(412.4 1585.8) scale(1 1.042)" font-size="28.1">Time Period (<tspan font-style="italic">s</tspan>)</text>
<text class="serif" x="465.5" y="1656" font-size="46">(b)</text>
<rect x="475.9" y="858.9" width="427.9" height="208.4" fill="#fff" stroke="#707070" stroke-width="1.2"/>
<path d="M480.7 881.5H556.5" stroke="#000000" stroke-width="3"/>
<rect x="513.8" y="876.7" width="9.6" height="9.6" fill="#fff" stroke="#000000" stroke-width="1.3"/>
<text class="serif" transform="translate(565.2 893.7) scale(1 1.0)" font-size="34">Box type FBW</text>
<path d="M480.7 921.4H556.5" stroke="#ff0000" stroke-width="3"/>
<circle cx="518.6" cy="921.4" r="5.6" fill="#fff" stroke="#ff0000" stroke-width="1.3"/>
<text class="serif" transform="translate(565.2 933.6) scale(1 1.0)" font-size="34">Trapezoidal type FBW</text>
<path d="M480.7 965H556.5" stroke="#0000ff" stroke-width="3"/>
<path d="M518.6 958L525.6 965L518.6 972L511.6 965Z" fill="#fff" stroke="#0000ff" stroke-width="1.3"/>
<text class="serif" transform="translate(565.2 977.2) scale(1 1.0)" font-size="34"><tspan dy="-4.0">π</tspan><tspan dy="4.0" dx="2.5">-type FBW</tspan></text>
<path d="M482.05 1004.5H542.55" stroke="#ff00ff" stroke-width="2.7" stroke-dasharray="9.6 15.57" stroke-linecap="round"/>
<path d="M518.6 995.57L526.4 1008.97L510.8 1008.97Z" fill="#ff00ff"/>
<text class="serif" transform="translate(565.2 1016.7) scale(1 1.0)" font-size="34">Parabolic type FBW</text>
<path d="M482.05 1044H542.55" stroke="#008000" stroke-width="2.7" stroke-dasharray="9.6 15.57" stroke-linecap="round"/>
<path d="M511 1039.67L526.2 1039.67L518.6 1052.67Z" fill="#008000"/>
<text class="serif" transform="translate(565.2 1056.2) scale(1 1.0)" font-size="34">Semi-circular type FBW</text>
<defs><clipPath id="clipc"><rect x="99" y="1681.7" width="815.9" height="675.2"/></clipPath></defs>
<path d="M153.55 2356.4V1683.7M262.25 2356.4V1683.7M370.95 2356.4V1683.7M479.65 2356.4V1683.7M588.35 2356.4V1683.7M697.05 2356.4V1683.7M805.75 2356.4V1683.7" stroke="#cbcbcb" stroke-width="1.1" stroke-dasharray="4.2 3.94" fill="none"/>
<path d="M98.9 2131.67H912.9M98.9 1906.93H912.9" stroke="#cbcbcb" stroke-width="1.1" stroke-dasharray="4.1 3.89" fill="none"/>
<rect x="99.5" y="1682.2" width="814.9" height="674.2" fill="none" stroke="#000" stroke-width="3"/>
<path d="M99.5 2356.4V2362.4M153.55 2356.4V2368.9M207.9 2356.4V2362.4M262.25 2356.4V2368.9M316.6 2356.4V2362.4M370.95 2356.4V2368.9M425.3 2356.4V2362.4M479.65 2356.4V2368.9M534 2356.4V2362.4M588.35 2356.4V2368.9M642.7 2356.4V2362.4M697.05 2356.4V2368.9M751.4 2356.4V2362.4M805.75 2356.4V2368.9M860.1 2356.4V2362.4M914.4 2356.4V2368.9M99.5 2356.4H86M99.5 2244.03H92.5M99.5 2131.67H86M99.5 2019.3H92.5M99.5 1906.93H86M99.5 1794.57H92.5M99.5 1682.2H86" stroke="#000" stroke-width="3" fill="none"/>
<g clip-path="url(#clipc)">
<path d="M153.55 2351.91C171.67 2324.28 189.78 2296.66 207.9 2314.15C226.02 2331.64 244.13 2394.23 262.25 2278.42C280.37 2162.6 298.48 1868.38 316.6 1836.37C334.72 1804.35 352.83 2034.53 370.95 2127.62C389.07 2220.71 407.18 2176.7 425.3 2166.73C443.42 2156.75 461.53 2180.8 479.65 2192.79C497.77 2204.79 515.88 2204.73 534 2207.18C552.12 2209.63 570.23 2214.59 588.35 2213.47C606.47 2212.35 624.58 2205.16 642.7 2218.41C660.82 2231.67 678.93 2265.37 697.05 2264.71C715.17 2264.04 733.28 2229.01 751.4 2215.72C769.52 2202.43 787.63 2210.88 805.75 2213.92C823.87 2216.96 841.98 2214.6 860.1 2213.47C878.22 2212.34 896.33 2212.46 914.45 2212.57" fill="none" stroke="#000000" stroke-width="3" stroke-linejoin="round"/>
<rect x="148.75" y="2347.11" width="9.6" height="9.6" fill="#fff" stroke="#000000" stroke-width="1.3"/>
<rect x="203.1" y="2309.35" width="9.6" height="9.6" fill="#fff" stroke="#000000" stroke-width="1.3"/>
<rect x="257.45" y="2273.62" width="9.6" height="9.6" fill="#fff" stroke="#000000" stroke-width="1.3"/>
<rect x="311.8" y="1831.57" width="9.6" height="9.6" fill="#fff" stroke="#000000" stroke-width="1.3"/>
<rect x="366.15" y="2122.82" width="9.6" height="9.6" fill="#fff" stroke="#000000" stroke-width="1.3"/>
<rect x="420.5" y="2161.93" width="9.6" height="9.6" fill="#fff" stroke="#000000" stroke-width="1.3"/>
<rect x="474.85" y="2187.99" width="9.6" height="9.6" fill="#fff" stroke="#000000" stroke-width="1.3"/>
<rect x="529.2" y="2202.38" width="9.6" height="9.6" fill="#fff" stroke="#000000" stroke-width="1.3"/>
<rect x="583.55" y="2208.67" width="9.6" height="9.6" fill="#fff" stroke="#000000" stroke-width="1.3"/>
<rect x="637.9" y="2213.61" width="9.6" height="9.6" fill="#fff" stroke="#000000" stroke-width="1.3"/>
<rect x="692.25" y="2259.91" width="9.6" height="9.6" fill="#fff" stroke="#000000" stroke-width="1.3"/>
<rect x="746.6" y="2210.92" width="9.6" height="9.6" fill="#fff" stroke="#000000" stroke-width="1.3"/>
<rect x="800.95" y="2209.12" width="9.6" height="9.6" fill="#fff" stroke="#000000" stroke-width="1.3"/>
<rect x="855.3" y="2208.67" width="9.6" height="9.6" fill="#fff" stroke="#000000" stroke-width="1.3"/>
<rect x="909.65" y="2207.77" width="9.6" height="9.6" fill="#fff" stroke="#000000" stroke-width="1.3"/>
<path d="M153.55 2351.91C171.67 2335.32 189.78 2318.73 207.9 2328.53C226.02 2338.33 244.13 2374.52 262.25 2310.55C280.37 2246.59 298.48 2082.46 316.6 2044.02C334.72 2005.58 352.83 2092.82 370.95 2133.46C389.07 2174.11 407.18 2168.16 425.3 2171.22C443.42 2174.28 461.53 2186.34 479.65 2193.24C497.77 2200.15 515.88 2201.91 534 2203.58C552.12 2205.26 570.23 2206.85 588.35 2207.63C606.47 2208.4 624.58 2208.34 642.7 2208.53C660.82 2208.71 678.93 2209.12 697.05 2208.97C715.17 2208.83 733.28 2208.12 751.4 2207.63C769.52 2207.14 787.63 2206.87 805.75 2206.73C823.87 2206.58 841.98 2206.56 860.1 2206.28C878.22 2206 896.33 2205.46 914.45 2204.93" fill="none" stroke="#ff0000" stroke-width="3" stroke-linejoin="round"/>
<circle cx="153.55" cy="2351.91" r="5.6" fill="#fff" stroke="#ff0000" stroke-width="1.3"/>
<circle cx="207.9" cy="2328.53" r="5.6" fill="#fff" stroke="#ff0000" stroke-width="1.3"/>
<circle cx="262.25" cy="2310.55" r="5.6" fill="#fff" stroke="#ff0000" stroke-width="1.3"/>
<circle cx="316.6" cy="2044.02" r="5.6" fill="#fff" stroke="#ff0000" stroke-width="1.3"/>
<circle cx="370.95" cy="2133.46" r="5.6" fill="#fff" stroke="#ff0000" stroke-width="1.3"/>
<circle cx="425.3" cy="2171.22" r="5.6" fill="#fff" stroke="#ff0000" stroke-width="1.3"/>
<circle cx="479.65" cy="2193.24" r="5.6" fill="#fff" stroke="#ff0000" stroke-width="1.3"/>
<circle cx="534" cy="2203.58" r="5.6" fill="#fff" stroke="#ff0000" stroke-width="1.3"/>
<circle cx="588.35" cy="2207.63" r="5.6" fill="#fff" stroke="#ff0000" stroke-width="1.3"/>
<circle cx="642.7" cy="2208.53" r="5.6" fill="#fff" stroke="#ff0000" stroke-width="1.3"/>
<circle cx="697.05" cy="2208.97" r="5.6" fill="#fff" stroke="#ff0000" stroke-width="1.3"/>
<circle cx="751.4" cy="2207.63" r="5.6" fill="#fff" stroke="#ff0000" stroke-width="1.3"/>
<circle cx="805.75" cy="2206.73" r="5.6" fill="#fff" stroke="#ff0000" stroke-width="1.3"/>
<circle cx="860.1" cy="2206.28" r="5.6" fill="#fff" stroke="#ff0000" stroke-width="1.3"/>
<circle cx="914.45" cy="2204.93" r="5.6" fill="#fff" stroke="#ff0000" stroke-width="1.3"/>
<path d="M153.55 2352.35C171.67 2325 189.78 2297.65 207.9 2324.94C226.02 2352.22 244.13 2434.14 262.25 2316.85C280.37 2199.55 298.48 1883.04 316.6 1858.84C334.72 1834.64 352.83 2102.74 370.95 2208.53C389.07 2314.31 407.18 2257.79 425.3 2239.99C443.42 2222.18 461.53 2243.09 479.65 2253.02C497.77 2262.95 515.88 2261.91 534 2262.91C552.12 2263.91 570.23 2266.97 588.35 2268.75C606.47 2270.54 624.58 2271.05 642.7 2271.9C660.82 2272.75 678.93 2273.93 697.05 2274.6C715.17 2275.26 733.28 2275.42 751.4 2275.5C769.52 2275.58 787.63 2275.59 805.75 2275.5C823.87 2275.41 841.98 2275.21 860.1 2275.05C878.22 2274.88 896.33 2274.74 914.45 2274.6" fill="none" stroke="#0000ff" stroke-width="3" stroke-linejoin="round"/>
<path d="M153.55 2345.35L160.55 2352.35L153.55 2359.35L146.55 2352.35Z" fill="#fff" stroke="#0000ff" stroke-width="1.3"/>
<path d="M207.9 2317.94L214.9 2324.94L207.9 2331.94L200.9 2324.94Z" fill="#fff" stroke="#0000ff" stroke-width="1.3"/>
<path d="M262.25 2309.85L269.25 2316.85L262.25 2323.85L255.25 2316.85Z" fill="#fff" stroke="#0000ff" stroke-width="1.3"/>
<path d="M316.6 1851.84L323.6 1858.84L316.6 1865.84L309.6 1858.84Z" fill="#fff" stroke="#0000ff" stroke-width="1.3"/>
<path d="M370.95 2201.53L377.95 2208.53L370.95 2215.53L363.95 2208.53Z" fill="#fff" stroke="#0000ff" stroke-width="1.3"/>
<path d="M425.3 2232.99L432.3 2239.99L425.3 2246.99L418.3 2239.99Z" fill="#fff" stroke="#0000ff" stroke-width="1.3"/>
<path d="M479.65 2246.02L486.65 2253.02L479.65 2260.02L472.65 2253.02Z" fill="#fff" stroke="#0000ff" stroke-width="1.3"/>
<path d="M534 2255.91L541 2262.91L534 2269.91L527 2262.91Z" fill="#fff" stroke="#0000ff" stroke-width="1.3"/>
<path d="M588.35 2261.75L595.35 2268.75L588.35 2275.75L581.35 2268.75Z" fill="#fff" stroke="#0000ff" stroke-width="1.3"/>
<path d="M642.7 2264.9L649.7 2271.9L642.7 2278.9L635.7 2271.9Z" fill="#fff" stroke="#0000ff" stroke-width="1.3"/>
<path d="M697.05 2267.6L704.05 2274.6L697.05 2281.6L690.05 2274.6Z" fill="#fff" stroke="#0000ff" stroke-width="1.3"/>
<path d="M751.4 2268.5L758.4 2275.5L751.4 2282.5L744.4 2275.5Z" fill="#fff" stroke="#0000ff" stroke-width="1.3"/>
<path d="M805.75 2268.5L812.75 2275.5L805.75 2282.5L798.75 2275.5Z" fill="#fff" stroke="#0000ff" stroke-width="1.3"/>
<path d="M860.1 2268.05L867.1 2275.05L860.1 2282.05L853.1 2275.05Z" fill="#fff" stroke="#0000ff" stroke-width="1.3"/>
<path d="M914.45 2267.6L921.45 2274.6L914.45 2281.6L907.45 2274.6Z" fill="#fff" stroke="#0000ff" stroke-width="1.3"/>
<g fill="none" stroke="#ff00ff" stroke-width="2.7" stroke-dasharray="9.6 15.57" stroke-linecap="round"><path d="M153.55 2354.15C162.61 2349.49 171.67 2344.82 180.73 2338.88" stroke-dashoffset="-4.10"/><path d="M180.73 2338.88C189.78 2332.94 198.84 2325.72 207.9 2315.95" stroke-dashoffset="27.09"/><path d="M207.9 2315.95C216.96 2306.18 226.02 2293.85 235.07 2287.49" stroke-dashoffset="62.74"/><path d="M235.07 2287.49C244.13 2281.13 253.19 2280.73 262.25 2294.82" stroke-dashoffset="102.17"/><path d="M262.25 2294.82C271.31 2308.91 280.37 2337.49 289.43 2346.68" stroke-dashoffset="131.61"/><path d="M289.43 2346.68C298.48 2355.87 307.54 2345.68 316.6 2282.24" stroke-dashoffset="190.32"/><path d="M316.6 2282.24C325.66 2218.8 334.72 2102.11 343.77 1997.99" stroke-dashoffset="260.94"/><path d="M343.77 1997.99C352.83 1893.87 361.89 1802.33 370.95 1789.17" stroke-dashoffset="546.51"/><path d="M370.95 1789.17C380.01 1776.02 389.07 1841.26 398.12 1924.81" stroke-dashoffset="761.27"/><path d="M398.12 1924.81C407.18 2008.36 416.24 2110.22 425.3 2170.32" stroke-dashoffset="905.25"/><path d="M425.3 2170.32C434.36 2230.42 443.42 2248.75 452.48 2250.54" stroke-dashoffset="1145.78"/><path d="M452.48 2250.54C461.53 2252.32 470.59 2237.55 479.65 2231.45" stroke-dashoffset="1230.42"/><path d="M479.65 2231.45C488.71 2225.34 497.77 2227.9 506.82 2233.29" stroke-dashoffset="1262.87"/><path d="M506.82 2233.29C515.88 2238.68 524.94 2246.9 534 2252.12" stroke-dashoffset="1291.86"/><path d="M534 2252.12C543.06 2257.34 552.12 2259.57 561.17 2260.55" stroke-dashoffset="1324.94"/><path d="M561.17 2260.55C570.23 2261.54 579.29 2261.29 588.35 2261.56" stroke-dashoffset="1353.61"/><path d="M588.35 2261.56C597.41 2261.84 606.47 2262.65 615.53 2263.6" stroke-dashoffset="1380.81"/><path d="M615.53 2263.6C624.58 2264.55 633.64 2265.65 642.7 2266.51" stroke-dashoffset="1408.07"/><path d="M642.7 2266.51C651.76 2267.37 660.82 2267.99 669.88 2268.48" stroke-dashoffset="1435.40"/><path d="M669.88 2268.48C678.93 2268.97 687.99 2269.33 697.05 2269.65" stroke-dashoffset="1462.65"/><path d="M697.05 2269.65C706.11 2269.98 715.17 2270.27 724.23 2270.5" stroke-dashoffset="1489.85"/><path d="M724.23 2270.5C733.28 2270.73 742.34 2270.91 751.4 2271" stroke-dashoffset="1517.04"/><path d="M751.4 2271C760.46 2271.1 769.52 2271.11 778.58 2271.09" stroke-dashoffset="1544.22"/><path d="M778.58 2271.09C787.63 2271.07 796.69 2271.03 805.75 2271" stroke-dashoffset="1571.39"/><path d="M805.75 2271C814.81 2270.98 823.87 2270.97 832.93 2270.98" stroke-dashoffset="1598.57"/><path d="M832.93 2270.98C841.98 2270.98 851.04 2270.99 860.1 2271" stroke-dashoffset="1625.74"/><path d="M860.1 2271C869.16 2271.01 878.22 2271.01 887.28 2271.01" stroke-dashoffset="1652.92"/><path d="M887.28 2271.01C896.33 2271.01 905.39 2271 914.45 2271" stroke-dashoffset="1680.09"/></g>
<path d="M153.55 2345.22L161.35 2358.62L145.75 2358.62Z" fill="#ff00ff"/>
<path d="M207.9 2307.01L215.7 2320.41L200.1 2320.41Z" fill="#ff00ff"/>
<path d="M262.25 2285.89L270.05 2299.29L254.45 2299.29Z" fill="#ff00ff"/>
<path d="M316.6 2273.3L324.4 2286.7L308.8 2286.7Z" fill="#ff00ff"/>
<path d="M370.95 1780.24L378.75 1793.64L363.15 1793.64Z" fill="#ff00ff"/>
<path d="M425.3 2161.39L433.1 2174.79L417.5 2174.79Z" fill="#ff00ff"/>
<path d="M479.65 2222.51L487.45 2235.91L471.85 2235.91Z" fill="#ff00ff"/>
<path d="M534 2243.19L541.8 2256.59L526.2 2256.59Z" fill="#ff00ff"/>
<path d="M588.35 2252.63L596.15 2266.03L580.55 2266.03Z" fill="#ff00ff"/>
<path d="M642.7 2257.57L650.5 2270.97L634.9 2270.97Z" fill="#ff00ff"/>
<path d="M697.05 2260.72L704.85 2274.12L689.25 2274.12Z" fill="#ff00ff"/>
<path d="M751.4 2262.07L759.2 2275.47L743.6 2275.47Z" fill="#ff00ff"/>
<path d="M805.75 2262.07L813.55 2275.47L797.95 2275.47Z" fill="#ff00ff"/>
<path d="M860.1 2262.07L867.9 2275.47L852.3 2275.47Z" fill="#ff00ff"/>
<path d="M914.45 2262.07L922.25 2275.47L906.65 2275.47Z" fill="#ff00ff"/>
<g fill="none" stroke="#008000" stroke-width="2.7" stroke-dasharray="9.6 15.57" stroke-linecap="round"><path d="M153.55 2347.41C162.61 2343.49 171.67 2339.57 180.73 2334.65" stroke-dashoffset="-3.70"/><path d="M180.73 2334.65C189.78 2329.74 198.84 2323.84 207.9 2315.95" stroke-dashoffset="26.33"/><path d="M207.9 2315.95C216.96 2308.06 226.02 2298.19 235.07 2292.81" stroke-dashoffset="59.39"/><path d="M235.07 2292.81C244.13 2287.43 253.19 2286.54 262.25 2296.62" stroke-dashoffset="95.14"/><path d="M262.25 2296.62C271.31 2306.7 280.37 2327.75 289.43 2337.89" stroke-dashoffset="125.32"/><path d="M289.43 2337.89C298.48 2348.03 307.54 2347.26 316.6 2313.7" stroke-dashoffset="174.81"/><path d="M316.6 2313.7C325.66 2280.14 334.72 2213.79 343.77 2151.14" stroke-dashoffset="234.75"/><path d="M343.77 2151.14C352.83 2088.49 361.89 2029.53 370.95 2010.76" stroke-dashoffset="399.64"/><path d="M370.95 2010.76C380.01 1991.99 389.07 2013.4 398.12 2047.17" stroke-dashoffset="538.69"/><path d="M398.12 2047.17C407.18 2080.95 416.24 2127.07 425.3 2157.74" stroke-dashoffset="598.35"/><path d="M425.3 2157.74C434.36 2188.4 443.42 2203.59 452.48 2211.84" stroke-dashoffset="705.22"/><path d="M452.48 2211.84C461.53 2220.08 470.59 2221.38 479.65 2224.26" stroke-dashoffset="764.43"/><path d="M479.65 2224.26C488.71 2227.13 497.77 2231.58 506.82 2236.18" stroke-dashoffset="794.34"/><path d="M506.82 2236.18C515.88 2240.78 524.94 2245.52 534 2248.98" stroke-dashoffset="824.05"/><path d="M534 2248.98C543.06 2252.43 552.12 2254.61 561.17 2256.18" stroke-dashoffset="854.10"/><path d="M561.17 2256.18C570.23 2257.75 579.29 2258.71 588.35 2259.76" stroke-dashoffset="882.25"/><path d="M588.35 2259.76C597.41 2260.82 606.47 2261.95 615.53 2263.04" stroke-dashoffset="909.67"/><path d="M615.53 2263.04C624.58 2264.13 633.64 2265.18 642.7 2266.06" stroke-dashoffset="937.04"/><path d="M642.7 2266.06C651.76 2266.94 660.82 2267.65 669.88 2268.23" stroke-dashoffset="964.38"/><path d="M669.88 2268.23C678.93 2268.81 687.99 2269.27 697.05 2269.65" stroke-dashoffset="991.65"/><path d="M697.05 2269.65C706.11 2270.03 715.17 2270.33 724.23 2270.55" stroke-dashoffset="1018.86"/><path d="M724.23 2270.55C733.28 2270.77 742.34 2270.92 751.4 2271" stroke-dashoffset="1046.05"/><path d="M751.4 2271C760.46 2271.08 769.52 2271.09 778.58 2271.08" stroke-dashoffset="1073.23"/><path d="M778.58 2271.08C787.63 2271.06 796.69 2271.02 805.75 2271" stroke-dashoffset="1100.40"/><path d="M805.75 2271C814.81 2270.98 823.87 2270.98 832.93 2270.98" stroke-dashoffset="1127.58"/><path d="M832.93 2270.98C841.98 2270.98 851.04 2271 860.1 2271" stroke-dashoffset="1154.75"/><path d="M860.1 2271C869.16 2271.01 878.22 2271.01 887.28 2271.01" stroke-dashoffset="1181.93"/><path d="M887.28 2271.01C896.33 2271.01 905.39 2271 914.45 2271" stroke-dashoffset="1209.10"/></g>
<path d="M145.95 2343.08L161.15 2343.08L153.55 2356.08Z" fill="#008000"/>
<path d="M200.3 2311.61L215.5 2311.61L207.9 2324.61Z" fill="#008000"/>
<path d="M254.65 2292.29L269.85 2292.29L262.25 2305.29Z" fill="#008000"/>
<path d="M309 2309.37L324.2 2309.37L316.6 2322.37Z" fill="#008000"/>
<path d="M363.35 2006.43L378.55 2006.43L370.95 2019.43Z" fill="#008000"/>
<path d="M417.7 2153.4L432.9 2153.4L425.3 2166.4Z" fill="#008000"/>
<path d="M472.05 2219.92L487.25 2219.92L479.65 2232.92Z" fill="#008000"/>
<path d="M526.4 2244.64L541.6 2244.64L534 2257.64Z" fill="#008000"/>
<path d="M580.75 2255.43L595.95 2255.43L588.35 2268.43Z" fill="#008000"/>
<path d="M635.1 2261.72L650.3 2261.72L642.7 2274.72Z" fill="#008000"/>
<path d="M689.45 2265.32L704.65 2265.32L697.05 2278.32Z" fill="#008000"/>
<path d="M743.8 2266.67L759 2266.67L751.4 2279.67Z" fill="#008000"/>
<path d="M798.15 2266.67L813.35 2266.67L805.75 2279.67Z" fill="#008000"/>
<path d="M852.5 2266.67L867.7 2266.67L860.1 2279.67Z" fill="#008000"/>
<path d="M906.85 2266.67L922.05 2266.67L914.45 2279.67Z" fill="#008000"/>
</g>
<path transform="translate(145.6 2400.7) scale(0.01396 -0.01487)" d="M763 0L583 0L583 1147Q518 1085 412 1023Q306 961 222 930L222 1104Q373 1175 486 1276Q599 1377 646 1472L763 1472Z"/>
<text transform="translate(254.3 2400.7) scale(1 1.065)" font-size="28.6">3</text>
<text transform="translate(363 2400.7) scale(1 1.065)" font-size="28.6">5</text>
<text transform="translate(471.7 2400.7) scale(1 1.065)" font-size="28.6">7</text>
<text transform="translate(580.4 2400.7) scale(1 1.065)" font-size="28.6">9</text>
<path transform="translate(681.15 2400.7) scale(0.01396 -0.01487)" d="M763 0L583 0L583 1147Q518 1085 412 1023Q306 961 222 930L222 1104Q373 1175 486 1276Q599 1377 646 1472L763 1472Z"/><path transform="translate(697.05 2400.7) scale(0.01396 -0.01487)" d="M763 0L583 0L583 1147Q518 1085 412 1023Q306 961 222 930L222 1104Q373 1175 486 1276Q599 1377 646 1472L763 1472Z"/>
<path transform="translate(789.85 2400.7) scale(0.01396 -0.01487)" d="M763 0L583 0L583 1147Q518 1085 412 1023Q306 961 222 930L222 1104Q373 1175 486 1276Q599 1377 646 1472L763 1472Z"/><text transform="translate(805.75 2400.7) scale(1 1.065)" font-size="28.6">3</text>
<path transform="translate(898.5 2400.7) scale(0.01396 -0.01487)" d="M763 0L583 0L583 1147Q518 1085 412 1023Q306 961 222 930L222 1104Q373 1175 486 1276Q599 1377 646 1472L763 1472Z"/><text transform="translate(914.4 2400.7) scale(1 1.065)" font-size="28.6">5</text>
<text transform="translate(37.17 2364.8) scale(1 1.045)" font-size="28.8">0</text><text transform="translate(53.18 2364.8) scale(1 1.045)" font-size="28.8">.</text><text transform="translate(61.19 2364.8) scale(1 1.045)" font-size="28.8">0</text>
<text transform="translate(37.17 2140.07) scale(1 1.045)" font-size="28.8">0</text><text transform="translate(53.18 2140.07) scale(1 1.045)" font-size="28.8">.</text><text transform="translate(61.19 2140.07) scale(1 1.045)" font-size="28.8">5</text>
<path transform="translate(37.17 1915.33) scale(0.01406 -0.01470)" d="M763 0L583 0L583 1147Q518 1085 412 1023Q306 961 222 930L222 1104Q373 1175 486 1276Q599 1377 646 1472L763 1472Z"/><text transform="translate(53.18 1915.33) scale(1 1.045)" font-size="28.8">.</text><text transform="translate(61.19 1915.33) scale(1 1.045)" font-size="28.8">0</text>
<path transform="translate(37.17 1690.6) scale(0.01406 -0.01470)" d="M763 0L583 0L583 1147Q518 1085 412 1023Q306 961 222 930L222 1104Q373 1175 486 1276Q599 1377 646 1472L763 1472Z"/><text transform="translate(53.18 1690.6) scale(1 1.045)" font-size="28.8">.</text><text transform="translate(61.19 1690.6) scale(1 1.045)" font-size="28.8">5</text>
<text transform="translate(20.4 1980.2) rotate(-90) scale(1.035 1.06)" font-size="28" text-anchor="end">-|X|</text>
<text transform="translate(28.4 2024.8) rotate(-90) scale(0.9 1.0)" font-size="18.2" text-anchor="end">55</text>
<text transform="translate(20.4 2042.7) rotate(-90) scale(1.3 1.06)" font-size="28" text-anchor="end">ξ</text>
<text transform="translate(411.2 2442.8) scale(1 1.07)" font-size="28.1">Time Period (<tspan font-style="italic">s</tspan>)</text>
<text class="serif" x="467.9" y="2490.5" font-size="46">(c)</text>
<rect x="475.4" y="1688" width="429.4" height="216.6" fill="#fff" stroke="#707070" stroke-width="1.2"/>
<path d="M479.5 1712H555.8" stroke="#000000" stroke-width="3"/>
<rect x="512.85" y="1707.2" width="9.6" height="9.6" fill="#fff" stroke="#000000" stroke-width="1.3"/>
<text class="serif" transform="translate(565.2 1724.3) scale(1 1.05)" font-size="34">Box type FBW</text>
<path d="M479.5 1753.1H555.8" stroke="#ff0000" stroke-width="3"/>
<circle cx="517.65" cy="1753.1" r="5.6" fill="#fff" stroke="#ff0000" stroke-width="1.3"/>
<text class="serif" transform="translate(565.2 1765.4) scale(1 1.05)" font-size="34">Trapezoidal type FBW</text>
<path d="M479.5 1798.2H555.8" stroke="#0000ff" stroke-width="3"/>
<path d="M517.65 1791.2L524.65 1798.2L517.65 1805.2L510.65 1798.2Z" fill="#fff" stroke="#0000ff" stroke-width="1.3"/>
<text class="serif" transform="translate(565.2 1810.5) scale(1 1.05)" font-size="34"><tspan dy="0">π</tspan><tspan dy="0" dx="1.7">-type FBW</tspan></text>
<path d="M480.85 1839.3H541.85" stroke="#ff00ff" stroke-width="2.7" stroke-dasharray="9.6 15.57" stroke-linecap="round"/>
<path d="M517.65 1830.37L525.45 1843.77L509.85 1843.77Z" fill="#ff00ff"/>
<text class="serif" transform="translate(565.2 1851.6) scale(1 1.05)" font-size="34">Parabolic type FBW</text>
<path d="M480.85 1880.5H541.85" stroke="#008000" stroke-width="2.7" stroke-dasharray="9.6 15.57" stroke-linecap="round"/>
<path d="M510.05 1876.17L525.25 1876.17L517.65 1889.17Z" fill="#008000"/>
<text class="serif" transform="translate(565.2 1892.8) scale(1 1.05)" font-size="34">Semi-circular type FBW</text>
</svg></body></html>
